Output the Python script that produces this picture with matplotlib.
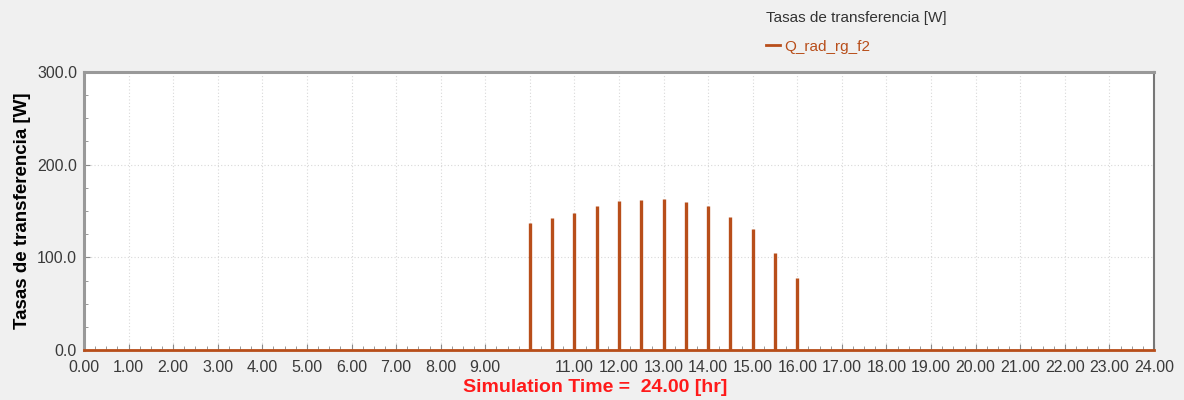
import numpy as np
import matplotlib.pyplot as plt
from matplotlib.ticker import MultipleLocator

plt.rcParams['font.family'] = ['Liberation Sans', 'DejaVu Sans']

# datos
spike_times = [10.0, 10.5, 11.0, 11.5, 12.0, 12.5, 13.0, 13.5, 14.0, 14.5, 15.0, 15.5, 16.0]
spike_values = [137, 142, 148, 155, 161, 162, 163, 160, 155, 144, 131, 105, 78]
x_ticks = list(range(0, 25))
x_labels = ['%.2f' % t if t != 10 else '' for t in x_ticks]
y_ticks = [0, 100, 200, 300]

line_color = '#b84e1a'

fig = plt.figure(figsize=(11.84, 4), dpi=100, facecolor='#f0f0f0')
ax = fig.add_axes([84/1184, 50/400, (1154-84)/1184, (350-72)/400])
ax.set_facecolor('white')

ax.plot([0, 24], [0, 0], color=line_color, lw=2, label='Q_rad_rg_f2', zorder=3,
        clip_on=False)
ax.vlines(spike_times, 0, spike_values, color=line_color, lw=2.4, zorder=3)

ax.set_xlim(0, 24)
ax.set_ylim(0, 300)
ax.set_xticks(x_ticks)
ax.set_xticklabels(x_labels)
ax.set_yticks(y_ticks)
ax.set_yticklabels(['%.1f' % v for v in y_ticks])
ax.yaxis.set_minor_locator(MultipleLocator(25))
ax.xaxis.set_minor_locator(MultipleLocator(0.25))
ax.tick_params(axis='both', which='both', direction='in', colors='#888888',
               labelcolor='#3a3a3a', labelsize=11.5)
ax.tick_params(axis='x', which='major', length=4, pad=7)
ax.tick_params(axis='y', which='major', length=4, pad=5)
ax.tick_params(axis='both', which='minor', length=3)
ax.grid(True, which='major', color='#d8d8d8', linestyle=(0, (1, 2)), lw=0.8)

for side in ['top', 'left']:
    ax.spines[side].set_color('#999999')
    ax.spines[side].set_linewidth(2.2)
ax.spines['right'].set_color('#777777')
ax.spines['right'].set_linewidth(1.5)
ax.spines['bottom'].set_color('#aaaaaa')
ax.spines['bottom'].set_linewidth(1)

ax.set_ylabel('Tasas de transferencia [W]', fontsize=13.5, fontweight='bold', labelpad=4)
fig.text(595/1184, 1 - 388/400, 'Simulation Time =  24.00 [hr]', color='#ff1a1a',
         fontsize=14, fontweight='bold', ha='center', va='center')

leg = fig.legend(loc='upper left', bbox_to_anchor=(766/1184, 1 - 11/400),
                 title='Tasas de transferencia [W]', frameon=False, fontsize=11,
                 title_fontsize=11, handlelength=0.9, handletextpad=0.3,
                 labelspacing=0.95, labelcolor=line_color, alignment='left',
                 borderaxespad=0, borderpad=0)
leg.get_title().set_color('#333333')

fig.savefig('out.png', dpi=100, facecolor=fig.get_facecolor())
